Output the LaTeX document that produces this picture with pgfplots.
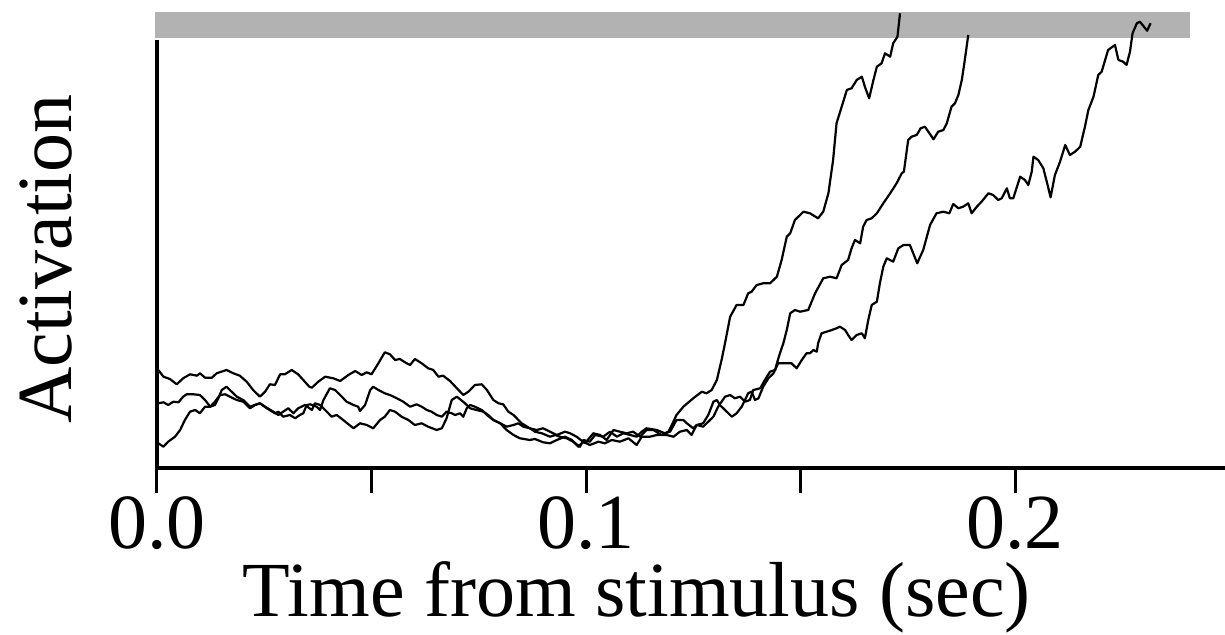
\documentclass[border=0pt]{standalone}
\usepackage{pgfplots}
\pgfplotsset{compat=1.18}
\usepackage{fontspec}
\setmainfont{Liberation Serif}
\definecolor{barGray}{RGB}{178,178,178}
\newcommand{\bigfont}{\fontsize{39pt}{46pt}\selectfont}
\begin{document}
\begin{tikzpicture}
\useasboundingbox (-78.5pt,-83.5pt) rectangle (534pt,234pt);
\begin{axis}[
  scale only axis, width=534pt, height=214pt,
  xmin=0, xmax=0.24895, ymin=0, ymax=428,
  clip=false,
  axis x line*=bottom, axis y line*=left,
  axis line style={line width=2pt,-},
  xtick={0,0.05,0.1,0.15,0.2},
  xticklabels={0.0,,0.1,,0.2},
  ytick=\empty,
  tick align=outside,
  major tick length=12.5pt,
  tick style={line width=1.5pt,black},
  xticklabel style={font=\bigfont, anchor=north, inner sep=0pt, yshift=-1.5pt},
  xlabel={Time from stimulus (sec)},
  ylabel={Activation},
  xlabel style={font=\bigfont, at={(rel axis cs:0.4494,0)}, anchor=base, yshift=-74.5pt, inner sep=0pt},
  ylabel style={font=\bigfont, at={(rel axis cs:0,0.488)}, anchor=base, yshift=42.5pt, inner sep=0pt},
]
% threshold band
\addplot[draw=none, fill=barGray, forget plot] coordinates {(-0.0005,430) (0.2408,430) (0.2408,456) (-0.0005,456)} -- cycle;

% trace 1 (fastest)
\addplot[black, line width=1.1pt, no markers, line join=round] coordinates {
(0.0003,98) (0.0015,91.3) (0.0030,89) (0.0046,83.7) (0.0061,89.7) (0.0077,93.7) (0.0093,92.3) (0.0100,94.7)
(0.0112,90.3) (0.0128,90.3) (0.0139,94.7) (0.0162,98) (0.0178,94.7) (0.0193,92.3) (0.0209,86.3) (0.0224,78)
(0.0240,71.3) (0.0252,76.3) (0.0263,83.7) (0.0275,83) (0.0287,93.7) (0.0298,93.7) (0.0314,98) (0.0329,93.7)
(0.0341,88) (0.0355,81.3) (0.0361,80.3) (0.0376,86.3) (0.0392,91.3) (0.0411,89.7) (0.0427,87) (0.0446,93)
(0.0462,97) (0.0477,93) (0.0489,95.7) (0.0500,93.7) (0.0516,104.7) (0.0531,115.7) (0.0543,113.7) (0.0555,108)
(0.0566,109) (0.0582,104.7) (0.0590,103) (0.0601,109) (0.0617,104.7) (0.0632,99.7) (0.0644,98) (0.0656,91.3)
(0.0667,92.3) (0.0683,87) (0.0699,79.7) (0.0714,73) (0.0726,76.3) (0.0741,83) (0.0757,83.7) (0.0769,78)
(0.0784,68) (0.0796,64.7) (0.0807,63.7) (0.0819,56.3) (0.0831,53) (0.0850,44.7) (0.0869,39.7) (0.0885,38)
(0.0900,39.7) (0.0916,36.3) (0.0932,33) (0.0951,36.3) (0.0963,34.7) (0.0978,31.3) (0.0998,24.7) (0.1017,34.7)
(0.1033,33) (0.1048,28) (0.1064,38) (0.1079,36.3) (0.1095,34.7) (0.1110,36.3) (0.1126,31.3) (0.1141,38)
(0.1157,38) (0.1176,33) (0.1192,36.3) (0.1200,43) (0.1211,53) (0.1227,61.3) (0.1250,69.7) (0.1270,76.3)
(0.1281,74.7) (0.1293,78) (0.1305,88) (0.1316,108) (0.1324,124.7) (0.1336,151.3) (0.1351,163) (0.1367,163)
(0.1378,174.7) (0.1386,176.3) (0.1398,183) (0.1413,184.7) (0.1429,184.7) (0.1445,191.3) (0.1456,208) (0.1468,231.3)
(0.1476,234.7) (0.1487,248) (0.1507,256.3) (0.1522,254.7) (0.1541,249.7) (0.1553,256.3) (0.1565,274.7) (0.1576,308)
(0.1584,344.7) (0.1596,361.3) (0.1608,378) (0.1619,379.7) (0.1631,388) (0.1643,391.3) (0.1650,381.3) (0.1660,369.7)
(0.1670,388) (0.1678,401.3) (0.1689,404.7) (0.1697,414.7) (0.1709,411.3) (0.1716,424.7) (0.1726,431.3) (0.1732,454.7)
};

% trace 2 (middle)
\addplot[black, line width=1.1pt, no markers, line join=round] coordinates {
(0.0003,64.7) (0.0015,65.7) (0.0026,63) (0.0038,66.3) (0.0050,65.7) (0.0061,71.3) (0.0069,73.7) (0.0085,73.7)
(0.0100,73) (0.0112,68) (0.0124,61.3) (0.0135,63) (0.0143,69.7) (0.0151,78) (0.0162,81.3) (0.0174,76.3)
(0.0186,71.3) (0.0201,68) (0.0217,61.3) (0.0228,63) (0.0240,64.7) (0.0252,61.3) (0.0271,56.3) (0.0283,53)
(0.0294,56.3) (0.0306,59.7) (0.0318,54.7) (0.0329,59.7) (0.0345,63) (0.0361,58) (0.0368,64.7) (0.0380,63)
(0.0396,56.3) (0.0407,51.3) (0.0419,53) (0.0434,48) (0.0458,39.7) (0.0473,44.7) (0.0489,43) (0.0504,39.7)
(0.0520,48) (0.0531,51.3) (0.0543,58) (0.0555,56.3) (0.0570,51.3) (0.0586,48) (0.0601,43) (0.0617,44.7)
(0.0632,41.3) (0.0652,38) (0.0664,39.7) (0.0675,49.7) (0.0687,68) (0.0699,71.3) (0.0718,64.7) (0.0730,59.7)
(0.0745,58) (0.0761,56.3) (0.0772,53) (0.0784,48) (0.0800,44.7) (0.0815,41.3) (0.0831,43) (0.0842,44.7)
(0.0854,41.3) (0.0869,39.7) (0.0881,36.3) (0.0897,34.7) (0.0916,31.3) (0.0928,33) (0.0939,31.3) (0.0955,29.7)
(0.0970,26.3) (0.0986,21.3) (0.0994,28) (0.1009,26.3) (0.1021,33) (0.1040,31.3) (0.1056,36.3) (0.1072,31.3)
(0.1087,34.7) (0.1103,33) (0.1118,31.3) (0.1130,36.3) (0.1141,39.7) (0.1165,38) (0.1184,34.7) (0.1196,36.3)
(0.1211,48) (0.1227,48) (0.1235,44.7) (0.1250,39.7) (0.1258,43) (0.1273,41.3) (0.1285,46.3) (0.1297,51.3)
(0.1308,61.3) (0.1324,71.3) (0.1336,73) (0.1347,69.7) (0.1359,71.3) (0.1371,66.3) (0.1382,68) (0.1390,78)
(0.1406,79.7) (0.1417,88) (0.1429,96.3) (0.1441,98) (0.1445,104.7) (0.1452,114.7) (0.1460,124.7) (0.1468,138)
(0.1476,154.7) (0.1487,158) (0.1499,156.3) (0.1518,158) (0.1534,174.7) (0.1553,189.7) (0.1569,191.3) (0.1584,189.7)
(0.1596,203) (0.1611,208) (0.1619,219.7) (0.1627,228) (0.1639,224.7) (0.1646,241.3) (0.1654,248) (0.1666,249.7)
(0.1678,254.7) (0.1693,264.7) (0.1709,274.7) (0.1724,284.7) (0.1736,294.7) (0.1741,296.3) (0.1751,328) (0.1759,331.3)
(0.1771,333) (0.1780,339.7) (0.1790,341.3) (0.1798,336.3) (0.1810,328.7) (0.1821,336.3) (0.1833,338) (0.1841,344.7)
(0.1852,361.3) (0.1860,364.7) (0.1868,373) (0.1876,388) (0.1883,408) (0.1891,433)
};

% trace 3 (slowest)
\addplot[black, line width=1.1pt, no markers, line join=round] coordinates {
(0.0003,24.7) (0.0015,21.3) (0.0026,26.3) (0.0042,31.3) (0.0054,38) (0.0065,48) (0.0077,56.3) (0.0089,58)
(0.0100,54.7) (0.0112,61.3) (0.0124,61.3) (0.0135,66.3) (0.0147,73) (0.0159,73.7) (0.0170,71.3) (0.0186,68)
(0.0201,66.3) (0.0217,59.7) (0.0228,63) (0.0240,64.7) (0.0256,59.7) (0.0275,54.7) (0.0283,56.3) (0.0294,51.3)
(0.0310,53) (0.0322,49.7) (0.0333,53) (0.0341,54.7) (0.0349,63) (0.0357,63.7) (0.0372,61.3) (0.0380,58)
(0.0388,68) (0.0403,79.7) (0.0415,78) (0.0427,73) (0.0442,66.3) (0.0458,63) (0.0469,61.3) (0.0473,57)
(0.0485,63) (0.0497,78) (0.0504,81.3) (0.0516,78) (0.0531,74.7) (0.0543,73) (0.0559,69.7) (0.0574,66.3)
(0.0590,61.3) (0.0605,63.7) (0.0617,61.3) (0.0629,58) (0.0640,56.3) (0.0652,53) (0.0664,51.3) (0.0675,56.3)
(0.0687,54.7) (0.0695,53) (0.0706,54.7) (0.0714,51.3) (0.0722,59.7) (0.0730,63) (0.0741,61.3) (0.0757,58)
(0.0769,53) (0.0784,48) (0.0800,44.7) (0.0815,38) (0.0831,33) (0.0846,29.7) (0.0869,28) (0.0881,29)
(0.0900,25.7) (0.0916,24.7) (0.0932,28) (0.0951,31.3) (0.0967,28) (0.0982,21.3) (0.0994,26.3) (0.1009,23)
(0.1029,26.3) (0.1044,24.7) (0.1060,28) (0.1079,26.3) (0.1099,29.7) (0.1118,23) (0.1130,31.3) (0.1149,31.3)
(0.1165,33) (0.1188,33) (0.1204,31.3) (0.1219,36.3) (0.1235,38) (0.1246,33) (0.1258,43) (0.1273,44.7)
(0.1285,53) (0.1297,66.3) (0.1305,68) (0.1312,63) (0.1324,58) (0.1340,51.3) (0.1351,54.7) (0.1363,61.3)
(0.1378,74.7) (0.1386,76.3) (0.1394,68) (0.1402,69.7) (0.1413,81.3) (0.1425,89.7) (0.1437,94.7) (0.1448,104.7)
(0.1464,104.7) (0.1479,104.7) (0.1491,99.7) (0.1503,108) (0.1514,114.7) (0.1522,114.7) (0.1530,118) (0.1538,116.3)
(0.1541,124.7) (0.1549,134.7) (0.1561,136.3) (0.1573,138) (0.1584,139.7) (0.1592,141.3) (0.1604,138) (0.1611,133)
(0.1619,128) (0.1631,133) (0.1643,134.7) (0.1650,129.7) (0.1658,148) (0.1666,163) (0.1678,166.3) (0.1685,184.7)
(0.1693,201.3) (0.1701,209.7) (0.1716,206.3) (0.1728,219.7) (0.1740,223) (0.1755,223) (0.1772,204.7) (0.1786,218)
(0.1802,243) (0.1817,254.7) (0.1833,256.3) (0.1847,254.7) (0.1856,264) (0.1868,259.7) (0.1879,261.3) (0.1891,264.7)
(0.1899,254.7) (0.1911,261.3) (0.1922,266.3) (0.1938,274.7) (0.1949,273) (0.1961,268) (0.1969,269.7) (0.1981,279.7)
(0.1988,269.7) (0.1996,269.7) (0.2012,291.3) (0.2023,288) (0.2031,283) (0.2039,296.3) (0.2043,311.3) (0.2054,308)
(0.2066,299.7) (0.2074,286.3) (0.2083,270.7) (0.2093,293) (0.2105,306.3) (0.2117,323) (0.2128,313) (0.2140,316.3)
(0.2152,321.3) (0.2163,341.3) (0.2171,358) (0.2183,371.3) (0.2194,393) (0.2202,396.3) (0.2217,418) (0.2233,423)
(0.2241,408) (0.2252,406.3) (0.2260,403) (0.2268,416.3) (0.2274,434.7) (0.2284,444.7) (0.2291,446.3) (0.2308,437.3)
(0.2316,444.7)
};
\end{axis}
\end{tikzpicture}
\end{document}
